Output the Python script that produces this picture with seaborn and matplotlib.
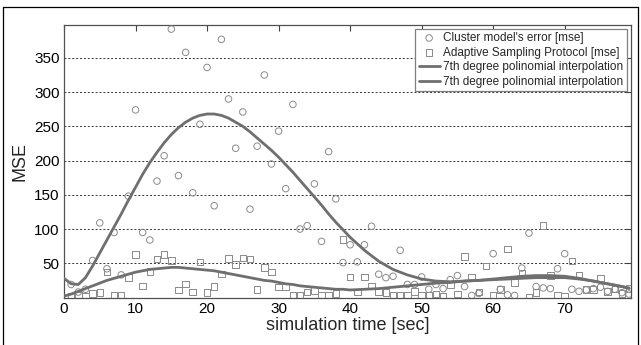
import numpy as np
import pandas as pd
import matplotlib
matplotlib.use("Agg")
import matplotlib.pyplot as plt
from matplotlib.lines import Line2D
import seaborn as sns

# ---------------- data ----------------
cluster_t = [1, 2, 3, 4, 5, 6, 7, 8, 9, 10, 11, 12, 13, 14, 15, 16, 17, 18, 19, 20,
             21, 22, 23, 24, 25, 26, 27, 28, 29, 30, 31, 32, 33, 34, 35, 36, 37, 38, 39, 40,
             41, 42, 43, 44, 45, 46, 47, 48, 49, 50, 51, 52, 53, 54, 55, 56, 57, 58, 60,
             61, 62, 63, 64, 65, 66, 67, 68, 69, 70, 71, 72, 73, 74, 75, 76, 77, 78, 79]
cluster_mse = [19, 8, 12, 54, 109, 42, 95, 33, 148, 274, 95, 84, 170, 207, 392, 178, 358, 153, 253, 336,
               134, 377, 290, 218, 271, 129, 221, 325, 195, 243, 159, 282, 100, 105, 166, 82, 213, 144, 51, 77,
               52, 77, 104, 34, 29, 31, 69, 19, 19, 30, 12, 19, 13, 26, 32, 16, 3, 6, 64,
               12, 4, 3, 43, 94, 16, 14, 13, 42, 64, 12, 9, 11, 13, 15, 9, 12, 7, 5]

asp_t = [1, 2, 3, 4, 5, 6, 7, 8, 9, 10, 11, 12, 13, 14, 15, 16, 17, 18, 19, 20,
         21, 22, 23, 24, 25, 26, 27, 28, 29, 30, 31, 32, 33, 34, 35, 36, 37, 38, 39, 40,
         41, 42, 43, 44, 45, 46, 47, 48, 49, 50, 51, 52, 53, 54, 55, 56, 57, 58, 59, 60,
         61, 62, 63, 64, 65, 66, 67, 68, 69, 70, 71, 72, 73, 74, 75, 76, 77, 78, 79]
asp_mse = [2, 4, 2, 6, 7, 37, 3, 4, 29, 63, 17, 38, 56, 63, 54, 11, 20, 8, 52, 7,
           16, 34, 57, 48, 58, 56, 12, 44, 37, 15, 15, 3, 3, 8, 10, 4, 3, 6, 85, 30,
           8, 30, 17, 9, 7, 4, 4, 3, 9, 3, 3, 5, 2, 19, 5, 60, 29, 8, 46, 3,
           12, 71, 22, 36, 1, 7, 105, 32, 3, 2, 53, 32, 12, 12, 28, 9, 13, 6, 13]

fit_t = [0, 1, 2, 3, 4, 5, 6, 7, 8, 9, 10, 11, 12, 13, 14, 15, 16, 17, 18, 19,
         20, 21, 22, 23, 24, 25, 26, 27, 28, 29, 30, 31, 32, 33, 34, 35, 36, 37, 38, 39,
         40, 42, 44, 46, 48, 50, 52, 54, 56, 58, 60, 62, 64, 66, 68, 70, 72, 74, 76, 78, 79]
cluster_fit = [28, 20, 19, 29, 46, 65, 84, 103, 122, 142, 161, 180, 197, 212, 226, 238, 248, 256, 262, 266,
               268, 268, 266, 262, 256, 250, 242, 233, 224, 215, 205, 194, 183, 171, 159, 147, 135, 122, 110, 99,
               88, 69, 53, 41, 33, 27, 24, 23, 24, 25, 27, 29, 31, 32, 32, 31, 28, 24, 20, 16, 13]
asp_fit = [2, 5, 9, 13, 17, 21, 25, 28, 31, 34, 37, 39, 41, 42, 43, 44, 44, 43, 42, 41,
           40, 39, 37, 35, 33, 31, 29, 27, 25, 24, 22, 20, 19, 17, 16, 15, 14, 13, 12, 12,
           11, 12, 13, 15, 17, 19, 21, 22, 24, 25, 26, 27, 28, 29, 29, 29, 27, 24, 20, 16, 14]

labels = ["Cluster model's error [mse]", "Adaptive Sampling Protocol [mse]",
          "7th degree polinomial interpolation", "7th degree polinomial interpolation"]
x_ticks = [0, 10, 20, 30, 40, 50, 60, 70]
y_ticks = [50, 100, 150, 200, 250, 300, 350]

# ---------------- style ----------------
sns.set_theme(style="white")
plt.rcParams["font.family"] = ["Liberation Sans", "DejaVu Sans"]

fig = plt.figure(figsize=(6.41, 3.45), dpi=100)
ax = fig.add_axes([64 / 641, 1 - 297.5 / 345, (630.5 - 64) / 641, (297.5 - 25) / 345])

marker_gray = "#8a8a8a"
line_gray = "#6f6f6f"

sns.scatterplot(x=cluster_t, y=cluster_mse, marker="o", s=22, facecolors="none",
                edgecolor=marker_gray, linewidth=0.7, ax=ax, label=labels[0], zorder=3)
sns.scatterplot(x=asp_t, y=asp_mse, marker="s", s=22, facecolors="none",
                edgecolor=marker_gray, linewidth=0.7, ax=ax, label=labels[1], zorder=3)
sns.lineplot(x=fit_t, y=cluster_fit, color=line_gray, linewidth=2.0, ax=ax,
             label=labels[2], zorder=4)
sns.lineplot(x=fit_t, y=asp_fit, color=line_gray, linewidth=2.0, ax=ax,
             label=labels[3], zorder=4)

ax.set_xlim(0, 79.2)
ax.set_ylim(0, 398)
ax.set_xticks(x_ticks)
ax.set_yticks(y_ticks)
ax.tick_params(direction="in", top=True, right=True, length=4, width=0.8,
               color="#404040", labelsize=11, labelcolor="black", pad=3)
ax.yaxis.grid(True, linestyle=(0, (2, 2)), linewidth=0.7, color="#333333")
ax.xaxis.grid(False)
for sp in ax.spines.values():
    sp.set_color("#505050")
    sp.set_linewidth(0.9)

ax.set_xlabel("simulation time [sec]", fontsize=13, labelpad=1)
ax.set_ylabel("MSE", fontsize=13, labelpad=4)

leg = ax.legend(loc="upper right", fontsize=8.5, frameon=True, fancybox=False,
                edgecolor="#808080", framealpha=1, borderpad=0.3, labelspacing=0.22,
                handlelength=1.8, handletextpad=0.3, borderaxespad=0.3, numpoints=1)
leg.get_frame().set_linewidth(0.9)

# outer frame around the figure
for xs, ys in [([3 / 641, 3 / 641], [0, 1 - 7 / 345]),
               ([3 / 641, 638 / 641], [1 - 7 / 345, 1 - 7 / 345]),
               ([638 / 641, 638 / 641], [0, 1 - 7 / 345])]:
    fig.add_artist(Line2D(xs, ys, color="black", linewidth=0.9, transform=fig.transFigure))

fig.savefig("out.png", dpi=100)
